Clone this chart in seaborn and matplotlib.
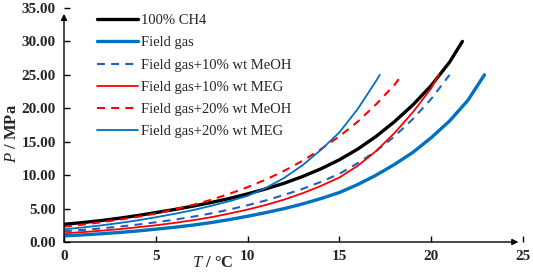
import matplotlib
matplotlib.use('Agg')
import matplotlib.pyplot as plt
import seaborn as sns
import pandas as pd

# ---------------------------------------------------------
# data (T in degC, P in MPa)
# ---------------------------------------------------------
T_CH4 = [0, 1, 2, 3, 4, 5, 6, 7, 8, 9, 10, 11, 12, 13, 14, 15, 16, 17, 18, 19, 20, 21, 21.7]
P_CH4 = [2.65, 2.9, 3.2, 3.55, 3.95, 4.4, 4.85, 5.35, 5.9, 6.5, 7.2, 7.95, 8.8, 9.8,
         10.95, 12.3, 13.9, 15.8, 18.0, 20.5, 23.4, 26.9, 30.0]

T_FIELD = [0, 1, 2, 3, 4, 5, 6, 7, 8, 9, 10, 11, 12, 13, 14, 15, 16, 17, 18, 19, 20, 21, 22, 22.9]
P_FIELD = [0.92, 1.06, 1.23, 1.42, 1.65, 1.92, 2.2, 2.52, 2.9, 3.35, 3.85, 4.4, 5.0, 5.7,
           6.5, 7.4, 8.6, 10.0, 11.6, 13.4, 15.6, 18.1, 21.2, 25.0]

T_MEOH10 = [0, 1, 2, 3, 4, 5, 6, 7, 8, 9, 10, 11, 12, 13, 14, 15, 16, 17, 18, 19, 20, 21]
P_MEOH10 = [1.6, 1.8, 2.03, 2.3, 2.6, 2.95, 3.33, 3.77, 4.27, 4.85, 5.5, 6.22, 7.05, 7.95,
            9.0, 10.2, 11.8, 13.6, 15.8, 18.4, 21.4, 25.0]

T_MEG10 = [0, 1, 2, 3, 4, 5, 6, 7, 8, 9, 10, 11, 12, 13, 14, 15, 16, 17, 18, 19, 20, 20.4]
P_MEG10 = [1.3, 1.48, 1.68, 1.92, 2.2, 2.5, 2.85, 3.25, 3.7, 4.25, 4.85, 5.55, 6.35, 7.3,
           8.4, 9.65, 11.4, 13.6, 16.3, 19.4, 23.0, 25.0]

T_MEOH20 = [0, 1, 2, 3, 4, 5, 6, 7, 8, 9, 10, 11, 12, 13, 14, 15, 16, 17, 18, 18.4]
P_MEOH20 = [2.3, 2.6, 2.95, 3.33, 3.76, 4.25, 4.85, 5.53, 6.3, 7.2, 8.2, 9.35, 10.65, 12.15,
            13.9, 15.8, 18.0, 20.6, 23.5, 25.0]

T_MEG20 = [0, 1, 2, 3, 4, 5, 6, 7, 8, 9, 10, 11, 12, 13, 14, 15, 16, 17, 17.2]
P_MEG20 = [1.9, 2.17, 2.48, 2.83, 3.23, 3.7, 4.2, 4.75, 5.4, 6.1, 6.9, 8.1, 9.6, 11.5,
           13.8, 16.4, 19.9, 24.1, 25.0]

LABELS = ['100% CH4', 'Field gas', 'Field gas+10% wt MeOH',
          'Field gas+10% wt MEG', 'Field gas+20% wt MeOH', 'Field gas+20% wt MEG']
X_TICKS = [0, 5, 10, 15, 20, 25]
Y_TICKS = [0, 5, 10, 15, 20, 25, 30, 35]

BLUE = '#0070C0'
RED = '#FF0000'
DASH = (0, (3.8, 3.0))

series = [
    (T_CH4, P_CH4, 'black', 2.4, '-'),
    (T_FIELD, P_FIELD, BLUE, 2.4, '-'),
    (T_MEOH10, P_MEOH10, '#1F63B8', 1.5, DASH),
    (T_MEG10, P_MEG10, RED, 1.3, '-'),
    (T_MEOH20, P_MEOH20, RED, 1.5, DASH),
    (T_MEG20, P_MEG20, BLUE, 1.3, '-'),
]

# ---------------------------------------------------------
# plot
# ---------------------------------------------------------
sns.set_theme(style='white')
plt.rcParams['font.family'] = ['Liberation Serif', 'DejaVu Serif']
plt.rcParams['mathtext.fontset'] = 'custom'
plt.rcParams['mathtext.rm'] = 'Liberation Serif'
plt.rcParams['mathtext.it'] = 'Liberation Serif:italic'
plt.rcParams['mathtext.bf'] = 'Liberation Serif:bold'

fig = plt.figure(figsize=(5.33, 2.74), dpi=100)
ax = fig.add_axes([64 / 533, 32 / 274, 459 / 533, 234 / 274])

for (t, p, c, lw, ls), lab in zip(series, LABELS):
    df = pd.DataFrame({'T': t, 'P': p})
    sns.lineplot(data=df, x='T', y='P', ax=ax, color=c, linewidth=lw,
                 linestyle=ls, label=lab, sort=False, estimator=None)

ax.set_xlim(0, 25)
ax.set_ylim(0, 35)
ax.set_xticks(X_TICKS)
ax.set_yticks(Y_TICKS)
ax.set_yticklabels([f'{v:.2f}' for v in Y_TICKS])
ax.set_xlabel('')
ax.set_ylabel('')
for s in ax.spines.values():
    s.set_visible(False)
ax.tick_params(direction='in', length=4, width=1, color='black',
               labelsize=11, pad=6, left=True, bottom=True)
for lbl in ax.get_xticklabels() + ax.get_yticklabels():
    lbl.set_fontweight('bold')

# axis lines with arrow heads
ax.annotate('', xy=(0, 0.975), xytext=(0, 0), xycoords='axes fraction',
            arrowprops=dict(arrowstyle='-|>', color='black', lw=1,
                            mutation_scale=9, shrinkA=0, shrinkB=0))
ax.annotate('', xy=(0.99, 0), xytext=(0, 0), xycoords='axes fraction',
            arrowprops=dict(arrowstyle='-|>', color='black', lw=1,
                            mutation_scale=9, shrinkA=0, shrinkB=0))

fig.text(12 / 533, 1 - 133 / 274, r'$\mathbf{\mathit{P}}$ / MPa', rotation=90,
         ha='center', va='center', fontsize=12, fontweight='bold')
fig.text(213 / 533, 1 - 263 / 274, r'$\mathit{T}$ / °C', ha='center',
         va='center', fontsize=12, fontweight='bold')

leg = ax.legend(loc='upper left', bbox_to_anchor=(97 / 533, 1 - 14 / 274),
                bbox_transform=fig.transFigure, frameon=False, fontsize=10.5,
                handlelength=2.8, handletextpad=0.2, labelspacing=0.62,
                borderpad=0, borderaxespad=0)

fig.savefig('out.png', dpi=100)
